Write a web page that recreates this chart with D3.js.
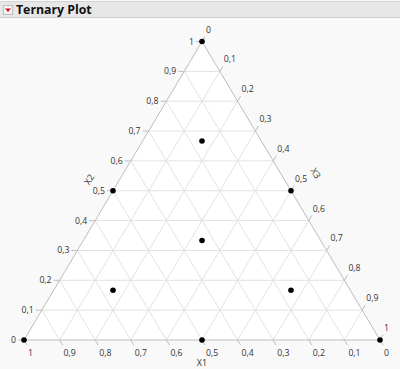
<!DOCTYPE html>
<html lang="es">
<head>
<meta charset="UTF-8">
<title>Ternary Plot</title>
<script src="https://cdn.jsdelivr.net/npm/d3@7"></script>
<style>
  body { margin: 0; background: #f9f9f9; }
  text { font-family: "Open Sans", "Noto Sans", sans-serif; }
</style>
</head>
<body>
<script>
// datos: composiciones (X1, X2, X3)
var x1 = [0, 1, 0, 0.5, 0, 0.5, 1/6, 1/3, 2/3, 1/6];
var x2 = [1, 0, 0, 0.5, 0.5, 0, 2/3, 1/3, 1/6, 1/6];
var x3 = [0, 0, 1, 0, 0.5, 0.5, 1/6, 1/3, 1/6, 2/3];
var ticks = [0, 0.1, 0.2, 0.3, 0.4, 0.5, 0.6, 0.7, 0.8, 0.9, 1];
var tickLabels = ["0", "0,1", "0,2", "0,3", "0,4", "0,5", "0,6", "0,7", "0,8", "0,9", "1"];

var ancho = 400, alto = 369;

var svg = d3.select("body").append("svg")
  .attr("width", ancho).attr("height", alto);

// cabecera
svg.append("rect").attr("x", 0).attr("y", 1).attr("width", ancho).attr("height", 16)
  .attr("fill", "#e7e7e7").attr("stroke", "none");
svg.append("line").attr("x1", 0).attr("x2", ancho).attr("y1", 1.5).attr("y2", 1.5)
  .attr("stroke", "#d6d6d6");
svg.append("line").attr("x1", 0).attr("x2", ancho).attr("y1", 17.5).attr("y2", 17.5)
  .attr("stroke", "#cfcfcf");
svg.append("rect").attr("x", 3.5).attr("y", 5.5).attr("width", 9).attr("height", 9)
  .attr("fill", "#f4f4f4").attr("stroke", "#c0c0c0");
svg.append("path").attr("d", "M5,8.5 L11,8.5 L8,12 Z").attr("fill", "#d0161b");
svg.append("text").attr("x", 16).attr("y", 14)
  .attr("font-size", "12.3px").attr("font-weight", "bold").attr("fill", "#111")
  .text("Ternary Plot");

// escalas: X = X3 + X2/2, Y = X2
var escalaX = d3.scaleLinear().domain([0, 1]).range([24, 380]);
var escalaY = d3.scaleLinear().domain([0, 1]).range([340, 41.5]);
function px(a, b, c) { return escalaX(c + b / 2); }
function py(a, b, c) { return escalaY(b); }

// triangulo blanco
var verts = [[1, 0, 0], [0, 1, 0], [0, 0, 1]];
svg.append("path")
  .attr("d", "M" + verts.map(function (v) { return px(v[0], v[1], v[2]) + "," + py(v[0], v[1], v[2]); }).join("L") + "Z")
  .attr("fill", "#ffffff").attr("stroke", "none");

// rejilla
var rej = svg.append("g").attr("stroke", "#e2e2e2").attr("stroke-width", 1);
ticks.slice(1, -1).forEach(function (t) {
  var segs = [
    [[1 - t, t, 0], [0, t, 1 - t]],
    [[t, 1 - t, 0], [t, 0, 1 - t]],
    [[0, 1 - t, t], [1 - t, 0, t]]
  ];
  segs.forEach(function (s) {
    rej.append("line")
      .attr("x1", px(s[0][0], s[0][1], s[0][2])).attr("y1", py(s[0][0], s[0][1], s[0][2]))
      .attr("x2", px(s[1][0], s[1][1], s[1][2])).attr("y2", py(s[1][0], s[1][1], s[1][2]));
  });
});

// bordes
svg.append("path")
  .attr("d", "M" + verts.map(function (v) { return px(v[0], v[1], v[2]) + "," + py(v[0], v[1], v[2]); }).join("L") + "Z")
  .attr("fill", "none").attr("stroke", "#bdbdbd").attr("stroke-width", 1);

// direcciones de las marcas
var dxL = escalaX(0.5) - escalaX(0), dyL = escalaY(1) - escalaY(0);
var lenL = Math.sqrt(dxL * dxL + dyL * dyL);
var tk = 6;
var ejes = svg.append("g").attr("font-size", "8.7px").attr("fill", "#333");

// X2 (izquierda)
ticks.forEach(function (t, i) {
  var x = px(1 - t, t, 0), y = py(1 - t, t, 0);
  ejes.append("line").attr("x1", x).attr("y1", y).attr("x2", x - tk).attr("y2", y)
    .attr("stroke", "#bdbdbd");
  ejes.append("text").attr("x", x - 8).attr("y", y + 3).attr("text-anchor", "end")
    .text(tickLabels[i]);
});
// X3 (derecha)
ticks.forEach(function (t, i) {
  var x = px(0, 1 - t, t), y = py(0, 1 - t, t);
  ejes.append("line").attr("x1", x).attr("y1", y)
    .attr("x2", x + tk * dxL / lenL).attr("y2", y + tk * dyL / lenL)
    .attr("stroke", "#bdbdbd");
  ejes.append("text").attr("x", x + 4).attr("y", y - 9)
    .text(tickLabels[i]);
});
// X1 (abajo)
ticks.forEach(function (t, i) {
  var x = px(t, 0, 1 - t), y = py(t, 0, 1 - t);
  ejes.append("line").attr("x1", x).attr("y1", y)
    .attr("x2", x + tk * dxL / lenL).attr("y2", y - tk * dyL / lenL)
    .attr("stroke", "#bdbdbd");
  ejes.append("text").attr("x", x + 4).attr("y", y + 16)
    .text(tickLabels[i]);
});

// titulos de ejes
var tit = svg.append("g").attr("font-size", "9px").attr("fill", "#333").attr("text-anchor", "middle");
tit.append("text").attr("x", escalaX(0.5)).attr("y", 366).text("X1");
tit.append("text").attr("transform", "translate(92,181) rotate(-59)").text("X2");
tit.append("text").attr("transform", "translate(313,175) rotate(59)").text("X3");

// puntos
svg.selectAll("circle.pt")
  .data(x1.map(function (d, i) { return [d, x2[i], x3[i]]; }))
  .enter().append("circle")
  .attr("class", "pt")
  .attr("cx", function (d) { return px(d[0], d[1], d[2]); })
  .attr("cy", function (d) { return py(d[0], d[1], d[2]); })
  .attr("r", 2.8)
  .attr("fill", "#000");
</script>
</body>
</html>
